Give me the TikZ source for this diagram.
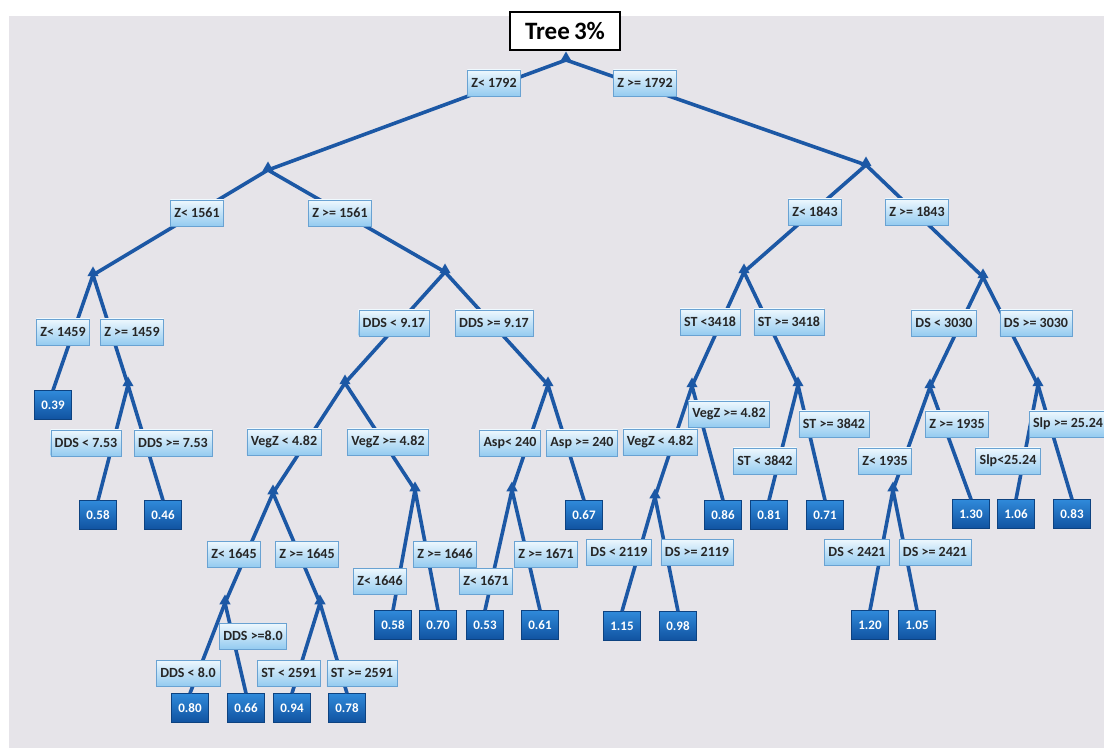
\documentclass[tikz,border=0pt]{standalone}
\usepackage{fontspec}
\setmainfont{Carlito}
\usepackage{xcolor}
\usepackage{tikz}
\usetikzlibrary{shapes.geometric}
\definecolor{branchblue}{RGB}{28,88,165}
\definecolor{paper}{RGB}{230,228,233}
\definecolor{splittop}{RGB}{238,248,254}
\definecolor{splitbot}{RGB}{148,203,240}
\definecolor{splitedge}{RGB}{105,162,210}
\definecolor{leaftop}{RGB}{48,138,218}
\definecolor{leafbot}{RGB}{16,82,160}
\tikzset{
    split/.style={rectangle, draw=splitedge, top color=splittop, bottom color=splitbot, minimum height=26pt, inner xsep=4pt, font=\fontsize{14}{16}\selectfont\bfseries, text=black!85},
    leaf/.style={rectangle, draw=leafbot!80!black, top color=leaftop, bottom color=leafbot, minimum width=37pt, minimum height=29pt, font=\fontsize{13}{15}\selectfont\bfseries, text=white},
    branch/.style={draw=branchblue, line width=3.6pt},
    hub/.style={regular polygon, regular polygon sides=3, fill=branchblue, inner sep=0pt, minimum size=13pt},
    title/.style={rectangle, draw=black, line width=2pt, fill=white, minimum width=110pt, minimum height=38pt, font=\fontsize{25}{29}\selectfont\bfseries},
}
\begin{document}
\begin{tikzpicture}[x=1pt, y=-1pt]
    \useasboundingbox (0,0) rectangle (1104,751);
    \fill[paper] (9,16) rectangle (1104,748);

    % Split points
    \coordinate (j0) at (566,60);
    \coordinate (j1) at (268,170);
    \coordinate (j2) at (866,165);
    \coordinate (j3) at (93,275);
    \coordinate (j4) at (445,272);
    \coordinate (j5) at (128,385);
    \coordinate (j6) at (345,383);
    \coordinate (j7) at (548,385);
    \coordinate (j8) at (273,493);
    \coordinate (j9) at (415,490);
    \coordinate (j10) at (512,490);
    \coordinate (j11) at (225,603);
    \coordinate (j12) at (320,603);
    \coordinate (j13) at (744,272);
    \coordinate (j14) at (983,277);
    \coordinate (j15) at (692,386);
    \coordinate (j16) at (798,385);
    \coordinate (j17) at (655,497);
    \coordinate (j18) at (930,387);
    \coordinate (j19) at (1038,385);
    \coordinate (j20) at (893,490);

    % Leaves
    \node[leaf] (l1) at (53,405) {0.39};
    \node[leaf] (l2) at (98,515) {0.58};
    \node[leaf] (l3) at (163,515) {0.46};
    \node[leaf] (l4) at (190,708) {0.80};
    \node[leaf] (l5) at (246,708) {0.66};
    \node[leaf] (l6) at (292,708) {0.94};
    \node[leaf] (l7) at (347,708) {0.78};
    \node[leaf] (l8) at (393,625) {0.58};
    \node[leaf] (l9) at (438,625) {0.70};
    \node[leaf] (l10) at (485,625) {0.53};
    \node[leaf] (l11) at (540,625) {0.61};
    \node[leaf] (l12) at (584,515) {0.67};
    \node[leaf] (l13) at (723,515) {0.86};
    \node[leaf] (l14) at (769,515) {0.81};
    \node[leaf] (l15) at (825,515) {0.71};
    \node[leaf] (l16) at (622,626) {1.15};
    \node[leaf] (l17) at (678,626) {0.98};
    \node[leaf] (l18) at (971,514) {1.30};
    \node[leaf] (l19) at (1016,514) {1.06};
    \node[leaf] (l20) at (1072,514) {0.83};
    \node[leaf] (l21) at (870,625) {1.20};
    \node[leaf] (l22) at (917,625) {1.05};

    % Branches
    \foreach \a/\b in {j0/j1, j0/j2, j1/j3, j1/j4, j3/j5, j4/j6, j4/j7, j6/j8, j6/j9, j7/j10, j8/j11, j8/j12,
                       j2/j13, j2/j14, j13/j15, j13/j16, j15/j17, j14/j18, j14/j19, j18/j20}
        \draw[branch] (\a) -- (\b);
    \foreach \a/\b in {j3/l1, j5/l2, j5/l3, j11/l4, j11/l5, j12/l6, j12/l7, j9/l8, j9/l9, j10/l10, j10/l11, j7/l12,
                       j15/l13, j16/l14, j16/l15, j17/l16, j17/l17, j18/l18, j19/l19, j19/l20, j20/l21, j20/l22}
        \draw[branch] (\a) -- (\b.north);
    \foreach \j in {0,...,20}
        \node[hub] (h\j) at ([yshift=2pt]j\j) {};

    % Title
    \node[title] (tree) at (565,31) {Tree\,3\%};

    % Split labels
    \node[split] (c1) at (494,83) {Z< 1792};
    \node[split] (c2) at (645,83) {Z >= 1792};
    \node[split] (c3) at (197,213) {Z< 1561};
    \node[split] (c4) at (340,213) {Z >= 1561};
    \node[split] (c5) at (63,332) {Z< 1459};
    \node[split] (c6) at (132,332) {Z >= 1459};
    \node[split] (c7) at (86,443) {DDS < 7.53};
    \node[split] (c8) at (173,443) {DDS >= 7.53};
    \node[split] (c9) at (394,323) {DDS < 9.17};
    \node[split] (c10) at (494,323) {DDS >= 9.17};
    \node[split] (c11) at (284,442) {VegZ < 4.82};
    \node[split] (c12) at (388,442) {VegZ >= 4.82};
    \node[split] (c13) at (510,443) {Asp< 240};
    \node[split] (c14) at (582,443) {Asp >= 240};
    \node[split] (c15) at (234,554) {Z< 1645};
    \node[split] (c16) at (307,554) {Z >= 1645};
    \node[split] (c17) at (253,636) {DDS >=8.0};
    \node[split] (c18) at (188,673) {DDS < 8.0};
    \node[split] (c19) at (289,673) {ST < 2591};
    \node[split] (c20) at (362,673) {ST >= 2591};
    \node[split] (c21) at (445,554) {Z >= 1646};
    \node[split] (c22) at (380,581) {Z< 1646};
    \node[split] (c23) at (546,554) {Z >= 1671};
    \node[split] (c24) at (486,581) {Z< 1671};
    \node[split] (c25) at (815,212) {Z< 1843};
    \node[split] (c26) at (917,212) {Z >= 1843};
    \node[split] (c27) at (710,322) {ST <3418};
    \node[split] (c28) at (789,322) {ST >= 3418};
    \node[split] (c29) at (729,414) {VegZ >= 4.82};
    \node[split] (c30) at (660,442) {VegZ < 4.82};
    \node[split] (c31) at (834,424) {ST >= 3842};
    \node[split] (c32) at (765,461) {ST < 3842};
    \node[split] (c33) at (619,552) {DS < 2119};
    \node[split] (c34) at (697,552) {DS >= 2119};
    \node[split] (c35) at (944,323) {DS < 3030};
    \node[split] (c36) at (1036,323) {DS >= 3030};
    \node[split] (c37) at (957,424) {Z >= 1935};
    \node[split] (c38) at (885,461) {Z< 1935};
    \node[split] (c39) at (1068,424) {Slp >= 25.24};
    \node[split] (c40) at (1008,461) {Slp<25.24};
    \node[split] (c41) at (857,552) {DS < 2421};
    \node[split] (c42) at (935,552) {DS >= 2421};
\end{tikzpicture}
\end{document}
